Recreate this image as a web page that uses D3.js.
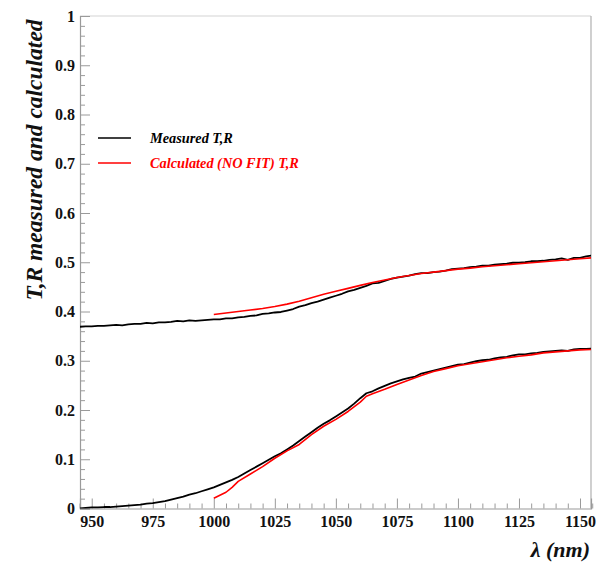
<!DOCTYPE html>
<html><head><meta charset="utf-8">
<script src="https://cdn.jsdelivr.net/npm/d3@7"></script>
<style>body{margin:0;background:#fff}svg{display:block}</style>
</head><body>
<script>
// ---- data ----
const lamMeasured = d3.range(945, 1155.01, 2.5);
const upperMeasured = [0.369,0.370,0.370,0.371,0.371,0.372,0.373,0.372,0.374,0.375,0.375,0.377,0.376,0.378,0.378,0.379,0.381,0.380,0.382,0.381,0.382,0.383,0.384,0.384,0.386,0.386,0.388,0.389,0.391,0.392,0.395,0.396,0.398,0.399,0.402,0.405,0.410,0.413,0.417,0.420,0.424,0.428,0.432,0.436,0.441,0.444,0.448,0.452,0.457,0.458,0.462,0.466,0.469,0.471,0.473,0.476,0.478,0.478,0.480,0.481,0.483,0.486,0.487,0.488,0.490,0.491,0.493,0.493,0.495,0.496,0.497,0.499,0.499,0.500,0.502,0.502,0.503,0.505,0.506,0.508,0.505,0.509,0.509,0.512,0.514];
const lowerMeasured = [0.000,0.001,0.002,0.002,0.003,0.003,0.004,0.005,0.006,0.007,0.008,0.010,0.011,0.013,0.015,0.018,0.021,0.024,0.028,0.031,0.035,0.039,0.043,0.048,0.053,0.058,0.064,0.071,0.078,0.085,0.092,0.099,0.106,0.112,0.120,0.128,0.137,0.146,0.155,0.164,0.172,0.179,0.187,0.195,0.203,0.213,0.224,0.234,0.238,0.244,0.249,0.254,0.258,0.262,0.265,0.268,0.274,0.277,0.280,0.283,0.286,0.289,0.292,0.293,0.296,0.299,0.301,0.302,0.305,0.307,0.308,0.311,0.313,0.313,0.315,0.316,0.318,0.319,0.320,0.321,0.320,0.323,0.324,0.324,0.325];
const lamUpperCalc = [1000,1005,1010,1015,1020,1025,1030,1035,1040,1045,1050,1055,1060,1065,1070,1075,1080,1085,1090,1095,1100,1105,1110,1115,1120,1125,1130,1135,1140,1145,1150,1155];
const upperCalc = [0.394,0.397,0.400,0.403,0.406,0.410,0.415,0.421,0.428,0.435,0.441,0.447,0.453,0.459,0.464,0.469,0.473,0.477,0.480,0.483,0.486,0.488,0.491,0.493,0.495,0.497,0.499,0.501,0.503,0.505,0.507,0.509];
const lamLowerCalc = [1000,1005,1007.5,1010,1015,1020,1025,1030,1035,1040,1045,1050,1055,1060,1062.5,1065,1070,1075,1080,1085,1090,1095,1100,1105,1110,1115,1120,1125,1130,1135,1140,1145,1150,1155];
const lowerCalc = [0.021,0.033,0.043,0.055,0.070,0.085,0.102,0.117,0.130,0.150,0.167,0.181,0.197,0.216,0.228,0.233,0.242,0.252,0.261,0.270,0.278,0.284,0.290,0.294,0.298,0.302,0.306,0.309,0.312,0.316,0.318,0.320,0.322,0.323];
const xTickValues = [950,975,1000,1025,1050,1075,1100,1125,1150];
const yTickValues = [0,0.1,0.2,0.3,0.4,0.5,0.6,0.7,0.8,0.9,1];
const legendLabels = ["Measured T,R", "Calculated (NO FIT) T,R"];
const legendColors = ["#000000", "#ff0000"];
const xTitle = "λ (nm)";
const yTitle = "T,R measured and calculated";

// ---- layout ----
const W = 597, H = 563;
const L = 80, R = 591, T = 16, B = 508.5;
const font = "'Liberation Serif','Times New Roman',serif";
const svg = d3.select("body").append("svg").attr("width", W).attr("height", H);

const x = d3.scaleLinear().domain([945.2, 1154.5]).range([L, R]);
const y = d3.scaleLinear().domain([0, 1]).range([B, T]);

// frame
svg.append("line").attr("x1", L).attr("x2", R).attr("y1", T).attr("y2", T).attr("stroke", "#e2e2e2").attr("stroke-width", 1.5);
svg.append("line").attr("x1", R).attr("x2", R).attr("y1", T).attr("y2", B).attr("stroke", "#b0b0b0").attr("stroke-width", 1.2);

// x axis
const xMinor = d3.range(945, 1156, 5).filter(v => !xTickValues.includes(v));
const xAxisMajor = d3.axisBottom(x).tickValues(xTickValues).tickSize(-10).tickPadding(7).tickFormat(d3.format("d"));
const gx = svg.append("g").attr("transform", `translate(0,${B})`).call(xAxisMajor);
gx.select(".domain").attr("stroke", "#9a9a9a").attr("stroke-width", 1.2);
gx.selectAll(".tick line").attr("stroke", "#9a9a9a");
gx.selectAll("text").attr("font-family", font).attr("font-weight", "bold").attr("font-size", 16).attr("fill", "#111");
const gxm = svg.append("g").attr("transform", `translate(0,${B})`).call(d3.axisBottom(x).tickValues(xMinor).tickSize(-5).tickFormat(""));
gxm.select(".domain").remove();
gxm.selectAll(".tick line").attr("stroke", "#9a9a9a");

// y axis
const yMinor = d3.range(0, 1.001, 0.02).filter(v => Math.abs(v*10 - Math.round(v*10)) > 1e-6);
const gy = svg.append("g").attr("transform", `translate(${L},0)`).call(
  d3.axisLeft(y).tickValues(yTickValues).tickSize(-10).tickPadding(5).tickFormat(d => d === 0 ? "0" : d === 1 ? "1" : d3.format(".1f")(d)));
gy.select(".domain").attr("stroke", "#9a9a9a").attr("stroke-width", 1.2);
gy.selectAll(".tick line").attr("stroke", "#9a9a9a");
gy.selectAll("text").attr("font-family", font).attr("font-weight", "bold").attr("font-size", 16).attr("fill", "#111");
const gym = svg.append("g").attr("transform", `translate(${L},0)`).call(d3.axisLeft(y).tickValues(yMinor).tickSize(-5).tickFormat(""));
gym.select(".domain").remove();
gym.selectAll(".tick line").attr("stroke", "#9a9a9a");

// titles
svg.append("text").attr("x", 590).attr("y", 557).attr("text-anchor", "end")
  .attr("font-family", font).attr("font-weight", "bold").attr("font-style", "italic").attr("font-size", 22).attr("fill", "#111").text(xTitle);
svg.append("text").attr("transform", `translate(42,${(13+307)/2}) rotate(-90)`).attr("text-anchor", "middle")
  .attr("font-family", font).attr("font-weight", "bold").attr("font-style", "italic").attr("font-size", 23.5).attr("fill", "#111").text(yTitle);

// curves
const clip = svg.append("clipPath").attr("id", "c").append("rect").attr("x", L).attr("y", T).attr("width", R - L).attr("height", B - T);
const line = d3.line().x(d => x(d[0])).y(d => y(d[1]));
const plot = svg.append("g").attr("clip-path", "url(#c)");
const series = [
  {lam: lamMeasured, v: upperMeasured, c: legendColors[0], w: 1.8},
  {lam: lamMeasured, v: lowerMeasured, c: legendColors[0], w: 1.8},
  {lam: lamUpperCalc, v: upperCalc, c: legendColors[1], w: 1.6},
  {lam: lamLowerCalc, v: lowerCalc, c: legendColors[1], w: 1.6}
];
series.forEach(s => {
  plot.append("path").datum(s.lam.map((l, i) => [l, s.v[i]]))
    .attr("d", line).attr("fill", "none").attr("stroke", s.c).attr("stroke-width", s.w).attr("stroke-linejoin", "round");
});

// legend
legendLabels.forEach((lab, i) => {
  const yy = 138 + i * 25;
  svg.append("line").attr("x1", 98).attr("x2", 131).attr("y1", yy).attr("y2", yy).attr("stroke", legendColors[i]).attr("stroke-width", 1.6);
  svg.append("text").attr("x", 150).attr("y", yy + 5).attr("font-family", font).attr("font-weight", "bold").attr("font-style", "italic")
    .attr("font-size", 14.3).attr("fill", legendColors[i]).text(lab);
});
</script>
</body></html>
